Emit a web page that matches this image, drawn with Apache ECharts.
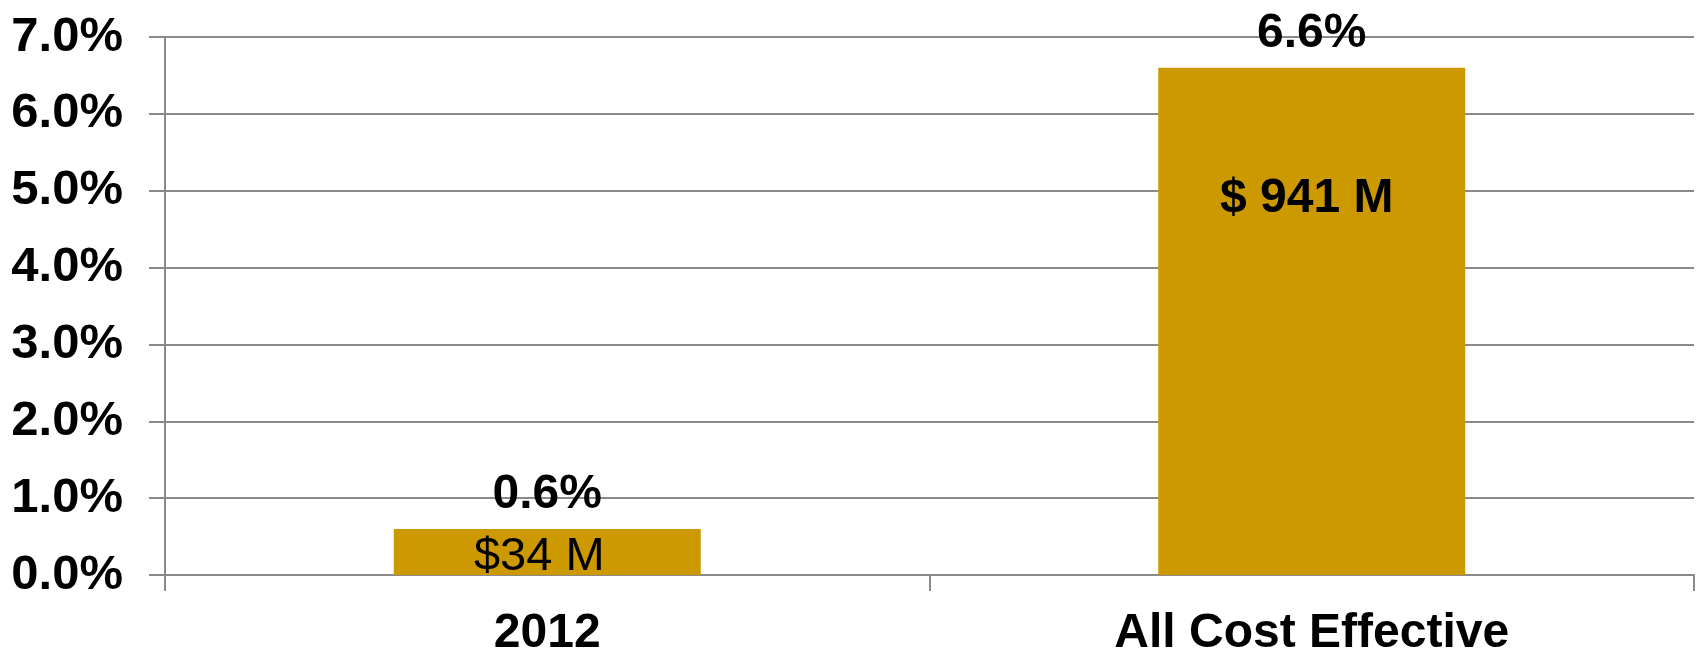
<!DOCTYPE html>
<html>
<head>
<meta charset="utf-8">
<script src="https://cdn.jsdelivr.net/npm/echarts@6/dist/echarts.min.js"></script>
<style>
html,body{margin:0;padding:0;background:#fff;}
#chart{width:1696px;height:658px;}
</style>
</head>
<body>
<div id="chart"></div>
<script>
const categories = ['2012', 'All Cost Effective'];
const percentValues = [0.6, 6.6];
const dollarLabels = ['$34 M', '$ 941 M'];
const yTicks = [0, 1, 2, 3, 4, 5, 6, 7];

const FONT = '"Liberation Sans", Arial, sans-serif';
const GRID_COLOR = '#8a8a8a';
const BAR_COLOR = '#CC9900';

const chart = echarts.init(document.getElementById('chart'));

const insideData = percentValues.map((v, i) => {
  const big = v > 3;
  return {
    value: v,
    label: big
      ? { position: 'insideTop', distance: 107, fontWeight: 'bold', fontSize: 48, offset: [-5, 0] }
      : { position: 'inside', fontWeight: 'normal', fontSize: 47, offset: [-8, 5] }
  };
});

chart.setOption({
  animation: false,
  backgroundColor: '#ffffff',
  grid: { left: 165, right: 2, top: 37, bottom: 76, containLabel: false },
  xAxis: {
    type: 'category',
    data: categories,
    axisLine: { show: true, lineStyle: { color: GRID_COLOR, width: 2 } },
    axisTick: { show: true, length: 16, lineStyle: { color: GRID_COLOR, width: 2 } },
    axisLabel: { color: '#000', fontFamily: FONT, fontWeight: 'bold', fontSize: 48, margin: 35 }
  },
  yAxis: {
    type: 'value',
    min: yTicks[0],
    max: yTicks[yTicks.length - 1],
    interval: 1,
    axisLine: { show: true, lineStyle: { color: GRID_COLOR, width: 2 } },
    axisTick: { show: true, length: 16, lineStyle: { color: GRID_COLOR, width: 2 } },
    splitLine: { show: true, lineStyle: { color: GRID_COLOR, width: 2 } },
    axisLabel: {
      color: '#000', fontFamily: FONT, fontWeight: 'bold', fontSize: 49, margin: 42,
      formatter: v => v.toFixed(1) + '%'
    }
  },
  series: [
    {
      type: 'bar',
      data: percentValues,
      barWidth: 307,
      itemStyle: { color: BAR_COLOR },
      label: {
        show: true, position: 'top', distance: 10,
        color: '#000', fontFamily: FONT, fontWeight: 'bold', fontSize: 48,
        formatter: p => p.value.toFixed(1) + '%'
      }
    },
    {
      type: 'bar',
      data: insideData,
      barWidth: 307,
      barGap: '-100%',
      itemStyle: { color: 'rgba(0,0,0,0)' },
      z: 3,
      label: {
        show: true,
        color: '#000', fontFamily: FONT,
        formatter: p => dollarLabels[p.dataIndex]
      }
    }
  ]
});
</script>
</body>
</html>
